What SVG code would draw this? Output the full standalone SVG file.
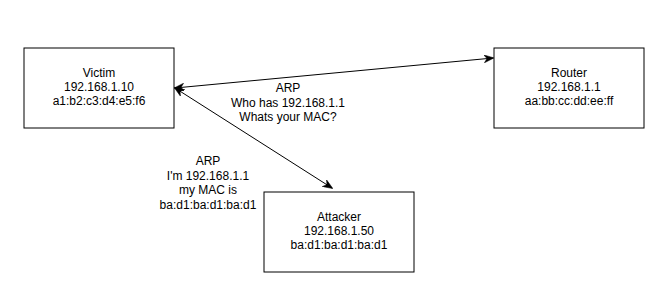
<svg xmlns="http://www.w3.org/2000/svg" width="668" height="292" viewBox="0 0 668 292">
<style>
.box{fill:#fff;stroke:#000;stroke-width:1}
text{font-family:"Liberation Sans",Arial,sans-serif;font-size:12px;fill:#000;text-anchor:middle}
.edge{fill:none;stroke:#000;stroke-width:1}
</style>
<defs>
<marker id="ah" viewBox="0 0 10 8" refX="9" refY="4" markerWidth="10" markerHeight="8" markerUnits="userSpaceOnUse" orient="auto-start-reverse">
<path d="M0,0 L10,4 L0,8 L3,4 z" fill="#000" stroke="#000" stroke-width="0.5"/>
</marker>
</defs>
<rect width="668" height="292" fill="#fff"/>
<g id="connectors">
<path class="edge" d="M175,88 L493,58" marker-start="url(#ah)" marker-end="url(#ah)"/>
<path class="edge" d="M175,88 L332,188" marker-start="url(#ah)" marker-end="url(#ah)"/>
<text x="288" y="92">ARP</text>
<text x="288" y="107">Who has 192.168.1.1</text>
<text x="288" y="121">Whats your MAC?</text>
<text x="208" y="165">ARP</text>
<text x="208" y="180">I'm 192.168.1.1</text>
<text x="208" y="194">my MAC is</text>
<text x="208" y="209">ba:d1:ba:d1:ba:d1</text>
</g>
<g id="victim">
<rect class="box" x="24" y="48" width="150" height="80"/>
<text x="99" y="77">Victim</text>
<text x="99" y="91">192.168.1.10</text>
<text x="99" y="105">a1:b2:c3:d4:e5:f6</text>
</g>
<g id="router">
<rect class="box" x="494" y="48" width="150" height="80"/>
<text x="569" y="77">Router</text>
<text x="569" y="91">192.168.1.1</text>
<text x="569" y="105">aa:bb:cc:dd:ee:ff</text>
</g>
<g id="attacker">
<rect class="box" x="264" y="192" width="150" height="80"/>
<text x="339" y="221">Attacker</text>
<text x="339" y="235">192.168.1.50</text>
<text x="339" y="249">ba:d1:ba:d1:ba:d1</text>
</g>
</svg>
